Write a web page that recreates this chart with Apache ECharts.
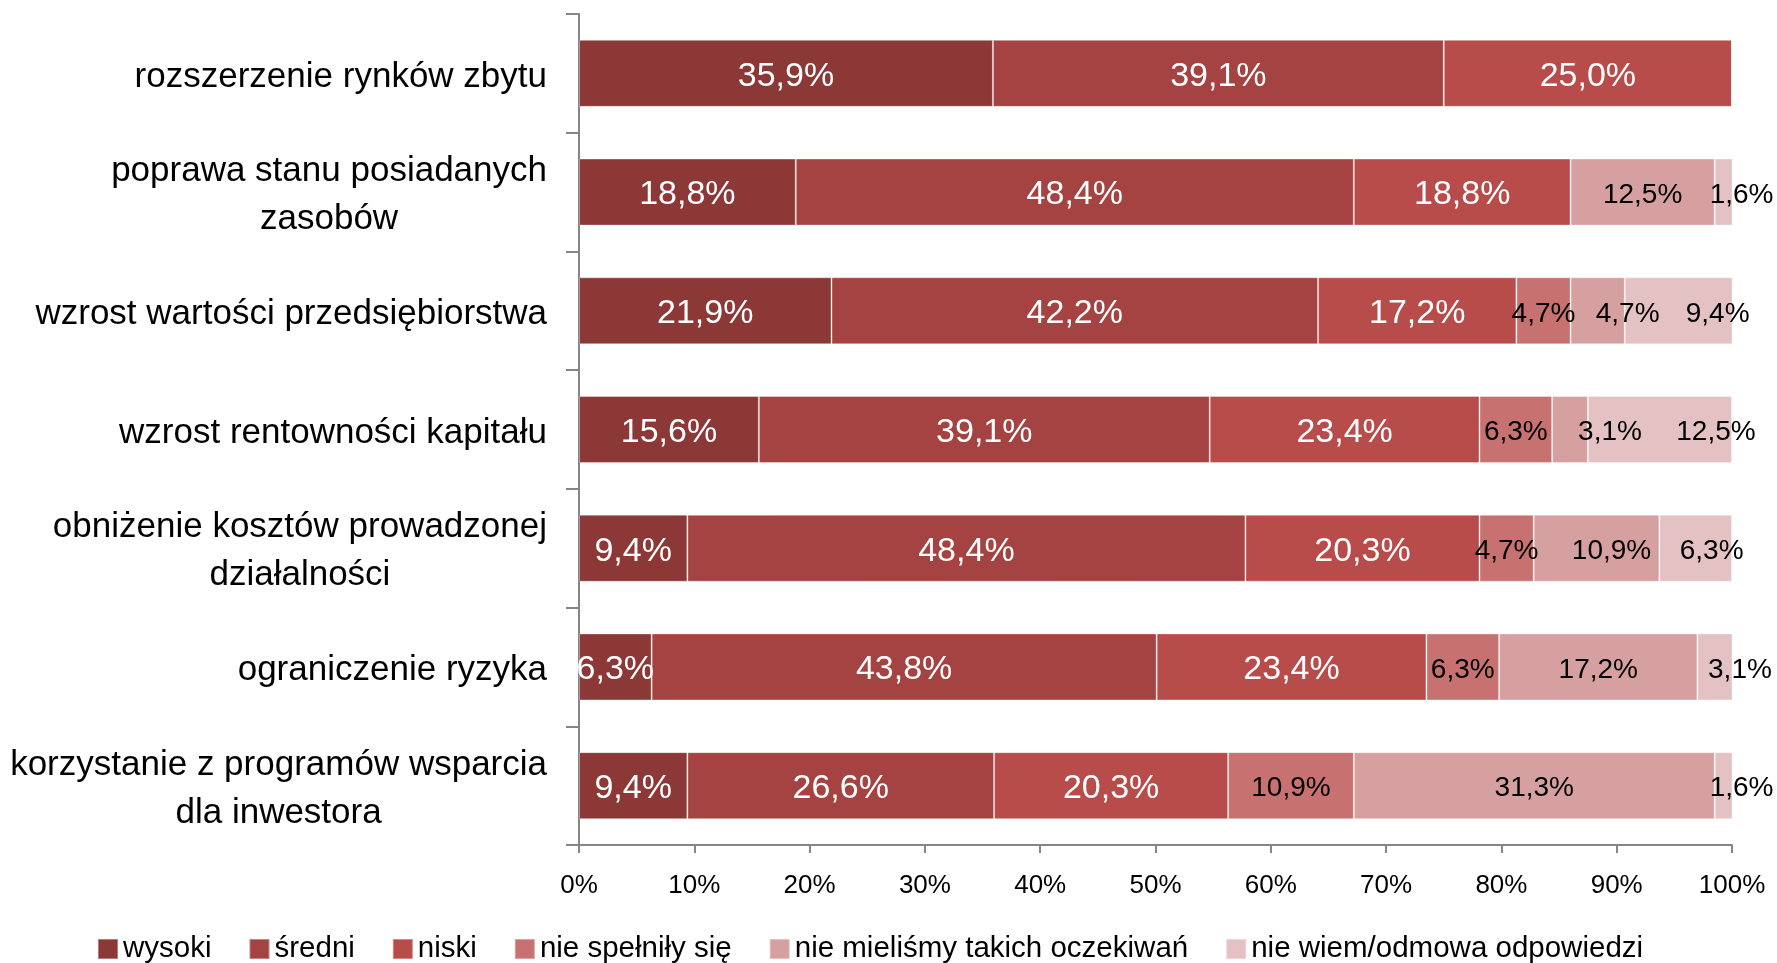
<!DOCTYPE html>
<html>
<head>
<meta charset="UTF-8">
<title></title>
<script src="https://cdn.jsdelivr.net/npm/echarts@6/dist/echarts.min.js"></script>
<style>
  html, body { margin: 0; padding: 0; background: #fff; }
  #chart { width: 1777px; height: 963px; }
</style>
</head>
<body>
<div id="chart"></div>
<script type="text/javascript">
// kategorie (od góry)
var categories = [
  'rozszerzenie rynków zbytu',
  'poprawa stanu posiadanych\nzasobów',
  'wzrost wartości przedsiębiorstwa',
  'wzrost rentowności kapitału',
  'obniżenie kosztów prowadzonej\ndziałalności',
  'ograniczenie ryzyka',
  'korzystanie z programów wsparcia\ndla inwestora'
];

var seriesNames = ['wysoki', 'średni', 'niski', 'nie spełniły się', 'nie mieliśmy takich oczekiwań', 'nie wiem/odmowa odpowiedzi'];

var wysoki      = [35.9, 18.8, 21.9, 15.6, 9.4, 6.3, 9.4];
var sredni      = [39.1, 48.4, 42.2, 39.1, 48.4, 43.8, 26.6];
var niski       = [25.0, 18.8, 17.2, 23.4, 20.3, 23.4, 20.3];
var niespelnily = [0, 0, 4.7, 6.3, 4.7, 6.3, 10.9];
var niemielismy = [0, 12.5, 4.7, 3.1, 10.9, 17.2, 31.3];
var niewiem     = [0, 1.6, 9.4, 12.5, 6.3, 3.1, 1.6];

var xTicks = [0, 10, 20, 30, 40, 50, 60, 70, 80, 90, 100];

var colors = ['#8B3837', '#A44341', '#B84C4A', '#C77270', '#D7A0A0', '#E4C2C3'];
var labelColors = ['#fff', '#fff', '#fff', '#000', '#000', '#000'];
var labelSizes = [34, 34, 34, 28, 28, 28];

// przesunięcia etykiet w poziomie (px), jak w oryginale - żeby się nie nakładały
var labelNudge = {
  4: [0, 0, 30, 40, 15, 0, 0],
  5: [0, 18, 39, 56, 16, 25, 18]
};

var FONT = '"Liberation Sans", Arial, sans-serif';

var chart = echarts.init(document.getElementById('chart'));

var allData = [wysoki, sredni, niski, niespelnily, niemielismy, niewiem];

var series = allData.map(function(arr, i) {
  return {
    name: seriesNames[i],
    type: 'bar',
    stack: 'all',
    barWidth: 67,
    data: arr.map(function(v, j) {
      var dx = labelNudge[i] ? labelNudge[i][j] : 0;
      return { value: v, label: { offset: [dx, 3] } };
    }),
    itemStyle: {
      color: colors[i],
      borderColor: 'rgba(255,255,255,0.35)',
      borderWidth: 1
    },
    label: {
      show: true,
      position: 'inside',
      color: labelColors[i],
      fontFamily: FONT,
      fontSize: labelSizes[i],
      formatter: function(p) {
        if (!p.value) return '';
        return p.value.toFixed(1).replace('.', ',') + '%';
      }
    }
  };
});

var option = {
  animation: false,
  backgroundColor: '#fff',
  color: colors,
  grid: { left: 579, right: 45, top: 14, bottom: 118 },
  legend: {
    data: seriesNames,
    top: 929,
    left: 92,
    itemWidth: 20,
    itemHeight: 20,
    itemGap: 37,
    icon: 'rect',
    textStyle: { fontFamily: FONT, fontSize: 29.5, color: '#000' }
  },
  xAxis: {
    type: 'value',
    min: 0,
    max: 100,
    interval: 10,
    splitLine: { show: false },
    axisLine: { show: true, lineStyle: { color: '#868686', width: 2 } },
    axisTick: { show: true, length: 8, lineStyle: { color: '#868686', width: 2 } },
    axisLabel: {
      formatter: '{value}%',
      margin: 28,
      color: '#000',
      fontFamily: FONT,
      fontSize: 26
    },
    data: xTicks
  },
  yAxis: {
    type: 'category',
    inverse: true,
    data: categories,
    axisLine: { show: true, lineStyle: { color: '#868686', width: 2 } },
    axisTick: { show: true, length: 13, lineStyle: { color: '#868686', width: 2 } },
    axisLabel: {
      margin: 32,
      color: '#000',
      fontFamily: FONT,
      fontSize: 35,
      lineHeight: 48,
      align: 'right',
      padding: [7, 0, 0, 0],
      formatter: function(v) {
        return v.split('\n').map(function(s) { return '{c|' + s + '}'; }).join('\n');
      },
      rich: {
        c: { align: 'center', fontFamily: FONT, fontSize: 35, lineHeight: 48, color: '#000' }
      }
    }
  },
  series: series
};

chart.setOption(option);
</script>
</body>
</html>
